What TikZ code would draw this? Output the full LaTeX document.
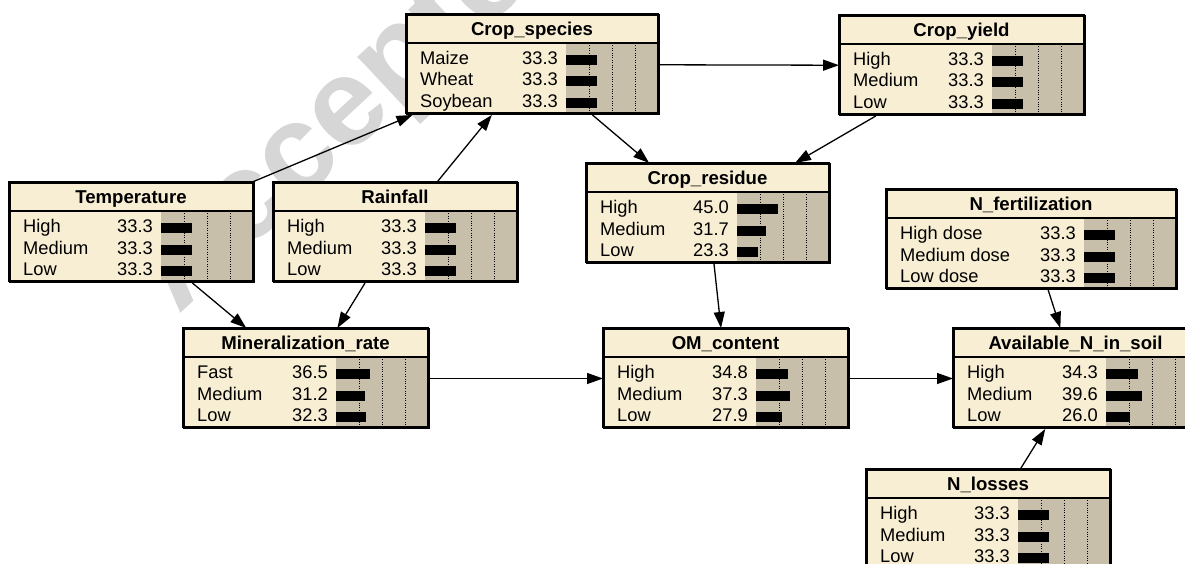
\documentclass[tikz,border=0pt]{standalone}
\usepackage{fontspec}
\setmainfont{Liberation Sans}
\usetikzlibrary{arrows.meta}
\definecolor{cream}{RGB}{248,238,212}
\definecolor{tanbar}{RGB}{199,191,170}
\definecolor{wm}{RGB}{214,214,214}
\tikzset{
  bnframe/.style={draw=black, line width=2pt, fill=cream, inner sep=0pt},
  dotln/.style={black, line width=0.9pt, dash pattern=on 1pt off 1.4pt},
  ttl/.style={font=\fontsize{18.6}{22}\selectfont\bfseries, inner sep=0pt},
  txt/.style={font=\fontsize{18.3}{22}\selectfont, inner sep=0pt},
  arr/.style={-{Triangle[length=16pt,width=11pt]}, line width=1.3pt},
}
\newcommand{\bnbox}[6]{%
  \node[bnframe, anchor=north west, minimum width={(#4+92)*1pt}, minimum height=99pt] (#1) at (#2,#3) {};
  \fill[tanbar] ({#2+#4},{#3+29}) rectangle ({#2+#4+92},{#3+99});
  \foreach \f in {23,46,69} \draw[dotln] ({#2+#4+\f},{#3+29}) -- ({#2+#4+\f},{#3+99});
  \node[ttl, anchor=base] at ({#2+(#4+92)/2},{#3+21.5}) {#5};
  \foreach \lab/\val [count=\i from 0] in {#6} {
    \node[txt, anchor=base west] at ({#2+14},{#3+50.5+21.5*\i}) {\lab};
    \node[txt, anchor=base east] at ({#2+#4-8},{#3+50.5+21.5*\i}) {\val};
    \fill ({#2+#4},{#3+50.5+21.5*\i-9.5}) rectangle ({#2+#4+0.92*\val},{#3+50.5+21.5*\i+0.5});
  }
  \draw[line width=2pt] (#2,{#3+29}) -- ({#2+#4+92},{#3+29});
  \draw[line width=2pt] (#2,#3) rectangle ({#2+#4+92},{#3+99});
}
\begin{document}
\begin{tikzpicture}[x=1pt,y=-1pt]
\useasboundingbox (0,0) rectangle (1185,564);
\clip (0,0) rectangle (1185,564);
\fill[white] (0,0) rectangle (1185,564);
\node[rotate=43, text=wm, font=\fontsize{125}{125}\selectfont\bfseries, inner sep=0pt] (wmark) at (362,100) {Accepted};
\bnbox{crop}{406}{14}{160}{Crop\_species}{Maize/33.3,Wheat/33.3,Soybean/33.3}
\bnbox{yield}{839}{15}{153}{Crop\_yield}{High/33.3,Medium/33.3,Low/33.3}
\bnbox{temp}{9}{182}{152}{Temperature}{High/33.3,Medium/33.3,Low/33.3}
\bnbox{rain}{273}{182}{152}{Rainfall}{High/33.3,Medium/33.3,Low/33.3}
\bnbox{residue}{586}{163}{151}{Crop\_residue}{High/45.0,Medium/31.7,Low/23.3}
\bnbox{nfert}{886}{189}{198}{N\_fertilization}{High dose/33.3,Medium dose/33.3,Low dose/33.3}
\bnbox{mineral}{183}{328}{153}{Mineralization\_rate}{Fast/36.5,Medium/31.2,Low/32.3}
\bnbox{om}{603}{328}{153}{OM\_content}{High/34.8,Medium/37.3,Low/27.9}
\bnbox{avail}{953}{328}{153}{Available\_N\_in\_soil}{High/34.3,Medium/39.6,Low/26.0}
\bnbox{nloss}{866}{469}{152}{N\_losses}{High/33.3,Medium/33.3,Low/33.3}
\draw[arr] (temp) -- (crop);
\draw[arr] (rain) -- (crop);
\draw[arr] (temp) -- (mineral);
\draw[arr] (rain) -- (mineral);
\draw[arr] (crop) -- (yield);
\draw[arr] (crop) -- (residue);
\draw[arr] (yield) -- (residue);
\draw[arr] (residue) -- (om);
\draw[arr] (mineral) -- (om);
\draw[arr] (om) -- (avail);
\draw[arr] (nfert) -- (avail);
\draw[arr] (nloss) -- (avail);
\end{tikzpicture}
\end{document}
